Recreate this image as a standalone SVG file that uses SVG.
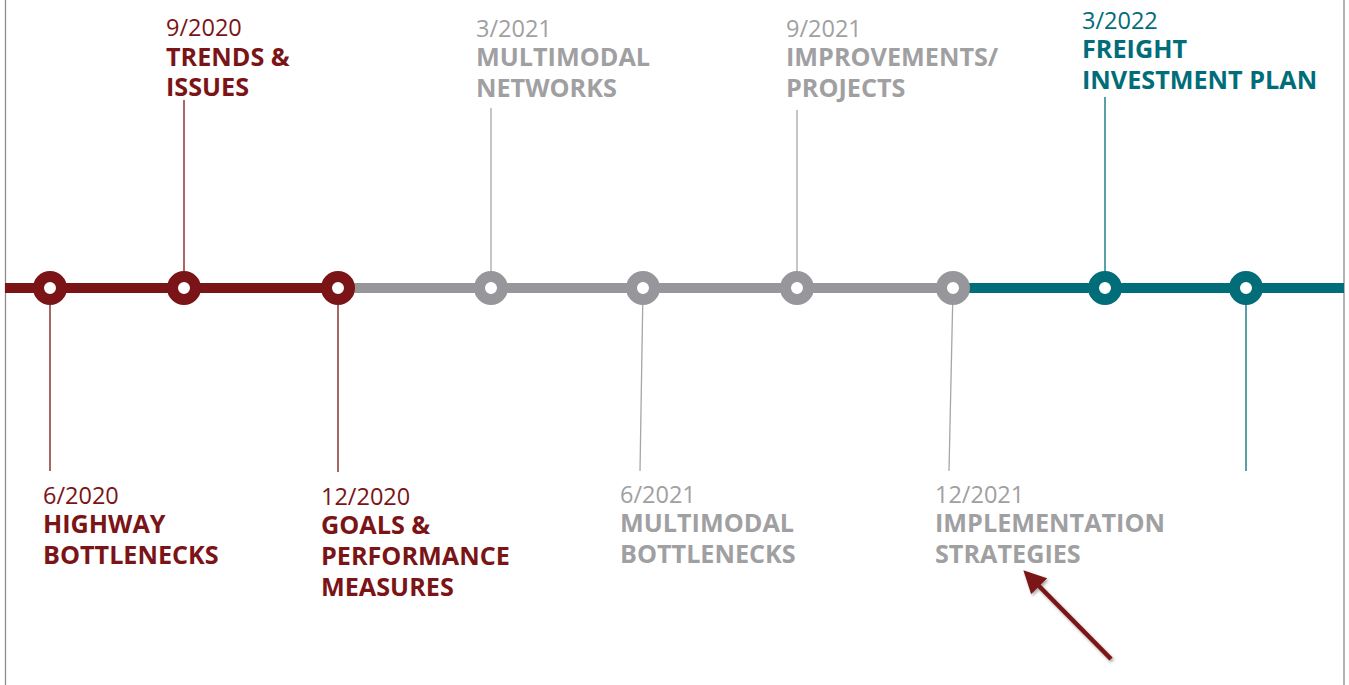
<svg xmlns="http://www.w3.org/2000/svg" width="1349" height="685" viewBox="0 0 1349 685">
<style>
.d{font-family:"Open Sans","Liberation Sans",sans-serif;font-size:23.5px;font-weight:400}
.t{font-family:"Open Sans","Liberation Sans",sans-serif;font-size:25.2px;font-weight:700}
.m{fill:#7a1416}
.g{fill:#a0a0a2}
.c{fill:#006d79}
.lm{stroke:#7a1416;stroke-width:1.3;fill:none}
.lg{stroke:#a6a6a8;stroke-width:1.3;fill:none}
.lc{stroke:#006d79;stroke-width:1.3;fill:none}
.nm{fill:#fff;stroke:#7a1416;stroke-width:11}
.ng{fill:#fff;stroke:#97979b;stroke-width:11}
.nc{fill:#fff;stroke:#006d79;stroke-width:11}
</style>
<defs>
<marker id="ah" viewBox="0 0 10 10" refX="2" refY="5" markerWidth="5" markerHeight="5" orient="auto-start-reverse" markerUnits="strokeWidth">
<path d="M0,0 L10,5 L0,10 z" fill="#7a1416"/>
</marker>
<filter id="sh" x="-20%" y="-20%" width="140%" height="140%">
<feDropShadow dx="1.5" dy="2" stdDeviation="1.5" flood-color="#000" flood-opacity="0.35"/>
</filter>
</defs>
<rect width="1349" height="685" fill="#fff"/>
<g id="frame">
<line x1="5.5" y1="0" x2="5.5" y2="685" stroke="#8c8c8c" stroke-width="1.3"/>
<line x1="1344" y1="0" x2="1344" y2="685" stroke="#8c8c8c" stroke-width="1.3"/>
</g>
<g id="connectors">
<line x1="5" y1="288" x2="338" y2="288" stroke="#7a1416" stroke-width="10"/>
<line x1="338" y1="288" x2="953" y2="288" stroke="#97979b" stroke-width="10"/>
<line x1="953" y1="288" x2="1344" y2="288" stroke="#006d79" stroke-width="10"/>
<line class="lm" x1="50" y1="288" x2="50" y2="471"/>
<line class="lm" x1="184" y1="100" x2="184" y2="288"/>
<line class="lm" x1="338" y1="288" x2="338" y2="472"/>
<line class="lg" x1="491" y1="108" x2="491" y2="288"/>
<line class="lg" x1="643" y1="288" x2="640" y2="471"/>
<line class="lg" x1="797" y1="110" x2="797" y2="288"/>
<line class="lg" x1="953" y1="288" x2="949" y2="471"/>
<line class="lc" x1="1105" y1="97" x2="1105" y2="288"/>
<line class="lc" x1="1246" y1="288" x2="1246" y2="471"/>
<line x1="1111" y1="659" x2="1036" y2="583" stroke="#7a1416" stroke-width="4.5" marker-end="url(#ah)" filter="url(#sh)"/>
</g>
<g id="n1"><circle class="nm" cx="50" cy="288" r="11.5"/>
<text class="d m" x="43" y="504">6/2020</text>
<text class="t m" x="43" y="533">HIGHWAY</text>
<text class="t m" x="43" y="564">BOTTLENECKS</text></g>
<g id="n2"><circle class="nm" cx="184" cy="288" r="11.5"/>
<text class="d m" x="166" y="36">9/2020</text>
<text class="t m" x="166" y="66">TRENDS &amp;</text>
<text class="t m" x="166" y="96">ISSUES</text></g>
<g id="n3"><circle class="nm" cx="338" cy="288" r="11.5"/>
<text class="d m" x="321" y="505">12/2020</text>
<text class="t m" x="321" y="534">GOALS &amp;</text>
<text class="t m" x="321" y="565">PERFORMANCE</text>
<text class="t m" x="321" y="596">MEASURES</text></g>
<g id="n4"><circle class="ng" cx="491" cy="288" r="11.5"/>
<text class="d g" x="476" y="37">3/2021</text>
<text class="t g" x="476" y="66">MULTIMODAL</text>
<text class="t g" x="476" y="97">NETWORKS</text></g>
<g id="n5"><circle class="ng" cx="643" cy="288" r="11.5"/>
<text class="d g" x="620" y="503">6/2021</text>
<text class="t g" x="620" y="532">MULTIMODAL</text>
<text class="t g" x="620" y="563">BOTTLENECKS</text></g>
<g id="n6"><circle class="ng" cx="797" cy="288" r="11.5"/>
<text class="d g" x="786" y="37">9/2021</text>
<text class="t g" x="786" y="66">IMPROVEMENTS/</text>
<text class="t g" x="786" y="97">PROJECTS</text></g>
<g id="n7"><circle class="ng" cx="953" cy="288" r="11.5"/>
<text class="d g" x="935" y="503">12/2021</text>
<text class="t g" x="935" y="532">IMPLEMENTATION</text>
<text class="t g" x="935" y="563">STRATEGIES</text></g>
<g id="n8"><circle class="nc" cx="1105" cy="288" r="11.5"/>
<text class="d c" x="1082" y="29">3/2022</text>
<text class="t c" x="1082" y="58">FREIGHT</text>
<text class="t c" x="1082" y="89">INVESTMENT PLAN</text></g>
<g id="n9"><circle class="nc" cx="1246" cy="288" r="11.5"/></g>
</svg>
